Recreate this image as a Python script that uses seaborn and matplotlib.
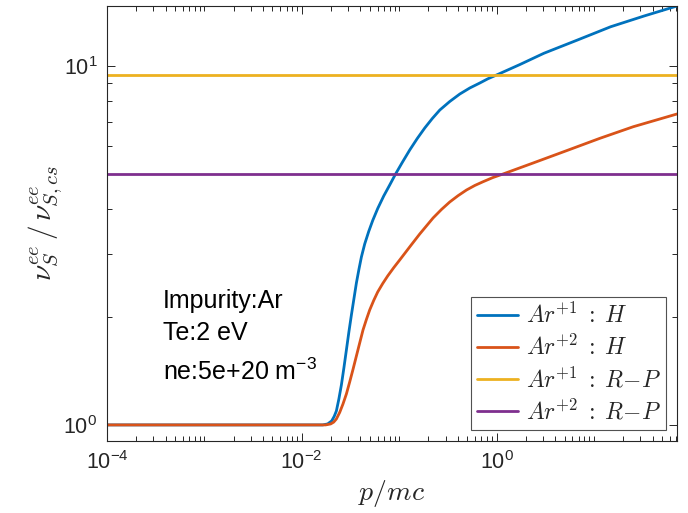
import numpy as np
import pandas as pd
import matplotlib
matplotlib.use("Agg")
import matplotlib.pyplot as plt
import matplotlib.ticker as mticker
import seaborn as sns

# Collision-frequency ratio vs normalised momentum, Ar impurity (Te = 2 eV, ne = 5e20 m^-3)
p_h1 = [1e-4, 0.0164, 0.01845, 0.02029, 0.02153, 0.02268, 0.02406, 0.02553, 0.02708,
        0.02873, 0.03048, 0.03234, 0.03431, 0.0364, 0.03862, 0.04097, 0.0443, 0.0487,
        0.05355, 0.06026, 0.06946, 0.08008, 0.09162, 0.1076, 0.1285, 0.1535, 0.1833,
        0.2189, 0.2615, 0.3311, 0.4197, 0.5316, 0.6737, 0.814, 1.0, 1.736, 3.063,
        6.688, 14.85, 32.66, 71.3]
nu_h1 = [1.0, 1.0, 1.0064, 1.026, 1.0561, 1.094, 1.1817, 1.293, 1.442,
         1.618, 1.817, 2.026, 2.246, 2.489, 2.714, 2.941, 3.197, 3.464,
         3.718, 4.015, 4.351, 4.671, 5.003, 5.395, 5.847, 6.294, 6.734,
         7.155, 7.557, 7.983, 8.375, 8.706, 8.989, 9.235, 9.463, 10.12, 10.88,
         11.83, 12.90, 13.82, 14.74]

p_h2 = [1e-4, 0.0176, 0.01982, 0.02128, 0.02268, 0.02452, 0.02651, 0.02873, 0.03107,
        0.03358, 0.0364, 0.03936, 0.04256, 0.04612, 0.04987, 0.0548, 0.06025, 0.06785,
        0.07634, 0.08803, 0.1014, 0.1306, 0.1628, 0.2231, 0.2721, 0.3311, 0.403,
        0.4916, 0.5984, 0.7284, 0.9162, 1.169, 2.378, 5.242, 11.53, 25.34, 71.3]
nu_h2 = [1.0, 1.0, 1.0064, 1.0181, 1.039, 1.0836, 1.144, 1.22, 1.318,
         1.428, 1.557, 1.693, 1.84, 1.969, 2.093, 2.224, 2.349, 2.48,
         2.604, 2.746, 2.885, 3.156, 3.409, 3.778, 3.99, 4.187, 4.36,
         4.521, 4.655, 4.769, 4.897, 5.012, 5.378, 5.821, 6.302, 6.788, 7.367]

p_rp = [1e-4, 71.3]
nu_rp1 = [9.48, 9.48]
nu_rp2 = [5.0, 5.0]

series_labels = [r'$Ar^{+1}\;:\;H$', r'$Ar^{+2}\;:\;H$',
                 r'$Ar^{+1}\;:\;R{-}P$', r'$Ar^{+2}\;:\;R{-}P$']
series_colors = ['#0072BD', '#D95319', '#EDB120', '#7E2F8E']

info_lines = ['Impurity:Ar', 'Te:2 eV', r'ne:5e+20 m$^{\mathregular{-3}}$']

sns.set_theme(style='ticks')
plt.rcParams['font.family'] = ['Liberation Sans', 'DejaVu Sans']
plt.rcParams['mathtext.fontset'] = 'custom'
plt.rcParams['mathtext.rm'] = 'Liberation Sans'
plt.rcParams['mathtext.it'] = 'Liberation Sans:italic'
plt.rcParams['mathtext.bf'] = 'Liberation Sans:bold'

frames = [
    pd.DataFrame({'p': p_h1, 'nu': nu_h1, 'case': series_labels[0]}),
    pd.DataFrame({'p': p_h2, 'nu': nu_h2, 'case': series_labels[1]}),
    pd.DataFrame({'p': p_rp, 'nu': nu_rp1, 'case': series_labels[2]}),
    pd.DataFrame({'p': p_rp, 'nu': nu_rp2, 'case': series_labels[3]}),
]
df = pd.concat(frames, ignore_index=True)

fig = plt.figure(figsize=(6.88, 5.13), dpi=100)
ax = fig.add_axes([0.1555, 0.1404, 0.8285, 0.8479])

sns.lineplot(data=df, x='p', y='nu', hue='case', hue_order=series_labels,
             palette=series_colors, linewidth=2.0, sort=False, estimator=None,
             ax=ax)

ax.set_xscale('log')
ax.set_yscale('log')
ax.set_xlim(1e-4, 71.3)
ax.set_ylim(0.902, 14.74)

ax.xaxis.set_major_locator(mticker.FixedLocator([1e-4, 1e-2, 1e0]))
ax.xaxis.set_minor_locator(mticker.LogLocator(base=10, subs=np.arange(1, 10), numticks=30))
ax.yaxis.set_major_locator(mticker.FixedLocator([1e0, 1e1]))
ax.yaxis.set_minor_locator(mticker.LogLocator(base=10, subs=np.arange(1, 10), numticks=30))
ax.yaxis.set_minor_formatter(mticker.NullFormatter())
ax.xaxis.set_minor_formatter(mticker.NullFormatter())

def pow_label(v, pos):
    e = int(round(np.log10(v)))
    return r'$\mathregular{10^{%d}}$' % e

ax.xaxis.set_major_formatter(mticker.FuncFormatter(pow_label))
ax.yaxis.set_major_formatter(mticker.FuncFormatter(pow_label))

edge = '#262626'
for s in ax.spines.values():
    s.set_color(edge)
    s.set_linewidth(0.8)
ax.tick_params(which='both', direction='in', top=True, right=True, colors=edge,
               labelcolor='#262626', width=0.7)
ax.tick_params(which='major', length=6, labelsize=15.5, pad=7)
ax.tick_params(which='minor', length=3.5)

ax.set_xlabel(r'$p/mc$', fontsize=20, math_fontfamily='cm', labelpad=3)
ax.set_ylabel(r'$\nu_S^{ee}\,/\,\nu_{S,cs}^{ee}$', fontsize=21, math_fontfamily='cm', labelpad=-1)

leg = ax.legend(loc='lower right', fontsize=17, frameon=True, fancybox=False,
                edgecolor=edge, handlelength=1.75, handletextpad=0.3,
                borderaxespad=0.45, labelspacing=0.3, borderpad=0.25)
leg.get_frame().set_linewidth(0.8)
for t in leg.get_texts():
    t.set_math_fontfamily('cm')
for h in leg.get_lines():
    h.set_linewidth(2.0)

ys = [0.306, 0.232, 0.14]
for txt, yy in zip(info_lines, ys):
    ax.text(0.098, yy, txt, transform=ax.transAxes, fontsize=18, va='baseline',
            ha='left', color='black')

fig.savefig('out.png', dpi=100)
